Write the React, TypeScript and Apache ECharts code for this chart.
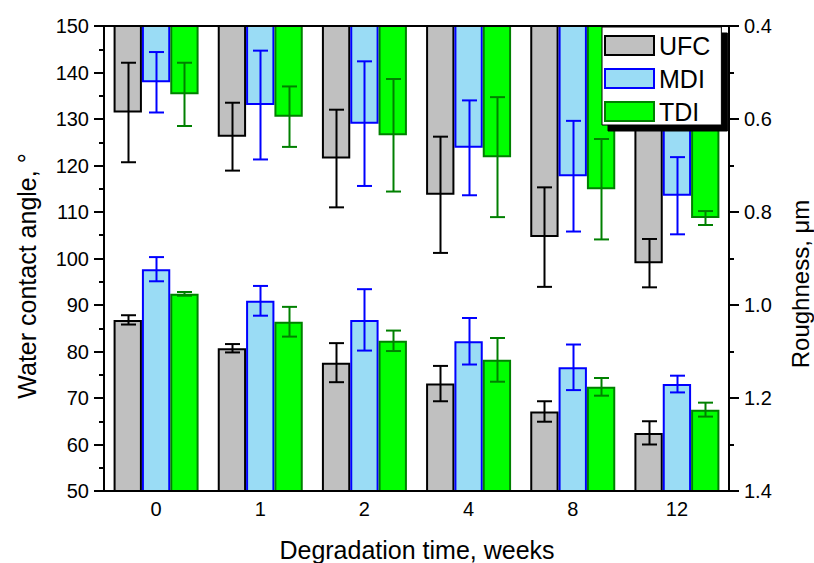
import React, { useEffect, useRef } from 'react';
import * as echarts from 'echarts';

const categories = ['0', '1', '2', '4', '8', '12'];
const seriesNames = ['UFC', 'MDI', 'TDI'];

// Water contact angle (°), bars rising from the bottom (left axis)
const ufcAngle = [86.8, 80.7, 77.6, 73.1, 67.1, 62.5];
const ufcAngleErr = [1.0, 0.9, 4.2, 3.8, 2.2, 2.5];
const mdiAngle = [97.7, 90.9, 86.8, 82.2, 76.6, 73.0];
const mdiAngleErr = [2.6, 3.2, 6.6, 5.0, 4.9, 1.8];
const tdiAngle = [92.4, 86.4, 82.3, 78.2, 72.4, 67.5];
const tdiAngleErr = [0.4, 3.2, 2.2, 4.7, 1.9, 1.5];

// Roughness (µm), bars hanging from the top (right axis, inverted)
const ufcRough = [0.586, 0.638, 0.685, 0.763, 0.854, 0.91];
const ufcRoughErr = [0.107, 0.073, 0.105, 0.125, 0.107, 0.052];
const mdiRough = [0.521, 0.57, 0.61, 0.662, 0.723, 0.765];
const mdiRoughErr = [0.065, 0.117, 0.134, 0.102, 0.119, 0.083];
const tdiRough = [0.547, 0.595, 0.635, 0.682, 0.751, 0.813];
const tdiRoughErr = [0.068, 0.065, 0.121, 0.129, 0.108, 0.015];

const fills = ['#c0c0c0', '#9adcf5', '#00ff00'];
const borders = ['#000000', '#0000ff', '#008000'];
const errColors = ['#000000', '#0000ff', '#008000'];

const FONT = '"Liberation Sans", Arial, Helvetica, sans-serif';
const BAR_FRAC = 0.272;

function makeBar(i: number, xi: number, yi: number, data: number[]) {
  return {
    type: 'bar',
    name: seriesNames[i],
    xAxisIndex: xi,
    yAxisIndex: yi,
    data,
    barWidth: (BAR_FRAC * 100).toFixed(1) + '%',
    barGap: '0%',
    clip: true,
    z: 2,
    itemStyle: { color: fills[i], borderColor: borders[i], borderWidth: 2 },
  };
}

function makeErr(i: number, xi: number, yi: number, vals: number[], errs: number[]) {
  return {
    type: 'custom',
    name: seriesNames[i] + ' error',
    xAxisIndex: xi,
    yAxisIndex: yi,
    z: 4,
    clip: false,
    data: vals.map((v, k) => [k, v, errs[k]]),
    encode: { x: 0, y: 1 },
    renderItem: (params: any, api: any) => {
      const k = api.value(0);
      const v = api.value(1);
      const e = api.value(2);
      const band = api.size([0, 0])[0];
      const dx = (i - 1) * band * BAR_FRAC;
      const p1 = api.coord([k, v + e]);
      const p2 = api.coord([k, v - e]);
      const x = Math.round(p1[0] + dx) + 0.5;
      const half = 7.5;
      const style = { stroke: errColors[i], lineWidth: 2, fill: null };
      return {
        type: 'group',
        children: [
          { type: 'line', shape: { x1: x, y1: p1[1], x2: x, y2: p2[1] }, style },
          { type: 'line', shape: { x1: x - half, y1: p1[1], x2: x + half, y2: p1[1] }, style },
          { type: 'line', shape: { x1: x - half, y1: p2[1], x2: x + half, y2: p2[1] }, style },
        ],
      };
    },
  };
}

export default function App() {
  const ref = useRef<HTMLDivElement>(null);

  useEffect(() => {
    const chart = echarts.init(ref.current as HTMLDivElement, null, { renderer: 'svg' });

    const axisLine = { show: true, lineStyle: { color: '#000', width: 2 } };
    const option: any = {
      animation: false,
      backgroundColor: '#ffffff',
      textStyle: { fontFamily: FONT },
      grid: { left: 104, right: 85, top: 26, bottom: 72, containLabel: false },
      legend: {
        data: seriesNames,
        orient: 'vertical',
        left: 602,
        top: 27,
        padding: [6, 11, 1, 2],
        itemWidth: 49,
        itemHeight: 19,
        itemGap: 8,
        icon: 'rect',
        z: 8,
        backgroundColor: '#ffffff',
        borderColor: '#000000',
        borderWidth: 1,
        borderRadius: 0,
        shadowColor: '#000000',
        shadowBlur: 0,
        shadowOffsetX: 6,
        shadowOffsetY: 6,
        textStyle: { fontSize: 25, color: '#000', fontFamily: FONT, lineHeight: 19 },
        selectedMode: false,
      },
      xAxis: [
        {
          type: 'category',
          data: categories,
          position: 'bottom',
          z: 3,
          axisLine,
          axisTick: { show: false },
          axisLabel: { fontSize: 20, color: '#000', margin: 8, fontFamily: FONT },
          splitLine: { show: false },
        },
        {
          type: 'category',
          data: categories,
          position: 'top',
          z: 3,
          axisLine,
          axisTick: { show: false },
          axisLabel: { show: false },
          splitLine: { show: false },
        },
      ],
      yAxis: [
        {
          type: 'value',
          position: 'left',
          min: 50,
          max: 150,
          interval: 10,
          z: 3,
          axisLine,
          axisTick: { show: true, length: 10, lineStyle: { color: '#000', width: 2 } },
          minorTick: { show: true, splitNumber: 2, length: 5, lineStyle: { color: '#000', width: 2 } },
          splitLine: { show: false },
          minorSplitLine: { show: false },
          axisLabel: { fontSize: 20, color: '#000', margin: 15, fontFamily: FONT },
        },
        {
          type: 'value',
          position: 'right',
          min: 0.4,
          max: 1.4,
          interval: 0.2,
          inverse: true,
          z: 3,
          axisLine,
          axisTick: { show: true, length: 10, lineStyle: { color: '#000', width: 2 } },
          minorTick: { show: true, splitNumber: 2, length: 5, lineStyle: { color: '#000', width: 2 } },
          splitLine: { show: false },
          minorSplitLine: { show: false },
          axisLabel: {
            fontSize: 20,
            color: '#000',
            margin: 15,
            fontFamily: FONT,
            formatter: (v: number) => v.toFixed(1),
          },
        },
      ],
      graphic: [
        {
          type: 'text',
          x: 417,
          y: 550,
          style: {
            text: 'Degradation time, weeks',
            fontSize: 25,
            fontFamily: FONT,
            fill: '#000',
            textAlign: 'center',
            textVerticalAlign: 'middle',
          },
        },
        {
          type: 'text',
          x: 27,
          y: 276,
          rotation: Math.PI / 2,
          style: {
            text: 'Water contact angle, °',
            fontSize: 25,
            fontFamily: FONT,
            fill: '#000',
            textAlign: 'center',
            textVerticalAlign: 'middle',
          },
        },
        {
          type: 'text',
          x: 800,
          y: 284,
          rotation: Math.PI / 2,
          style: {
            text: 'Roughness, μm',
            fontSize: 24,
            fontFamily: FONT,
            fill: '#000',
            textAlign: 'center',
            textVerticalAlign: 'middle',
          },
        },
      ],
      series: [
        makeBar(0, 0, 0, ufcAngle),
        makeBar(1, 0, 0, mdiAngle),
        makeBar(2, 0, 0, tdiAngle),
        makeBar(0, 1, 1, ufcRough),
        makeBar(1, 1, 1, mdiRough),
        makeBar(2, 1, 1, tdiRough),
        makeErr(0, 0, 0, ufcAngle, ufcAngleErr),
        makeErr(1, 0, 0, mdiAngle, mdiAngleErr),
        makeErr(2, 0, 0, tdiAngle, tdiAngleErr),
        makeErr(0, 1, 1, ufcRough, ufcRoughErr),
        makeErr(1, 1, 1, mdiRough, mdiRoughErr),
        makeErr(2, 1, 1, tdiRough, tdiRoughErr),
      ],
    };

    chart.setOption(option);
    return () => chart.dispose();
  }, []);

  return (
    <div
      ref={ref}
      style={{ position: 'absolute', left: 0, top: 0, width: 814, height: 563 }}
    />
  );
}
